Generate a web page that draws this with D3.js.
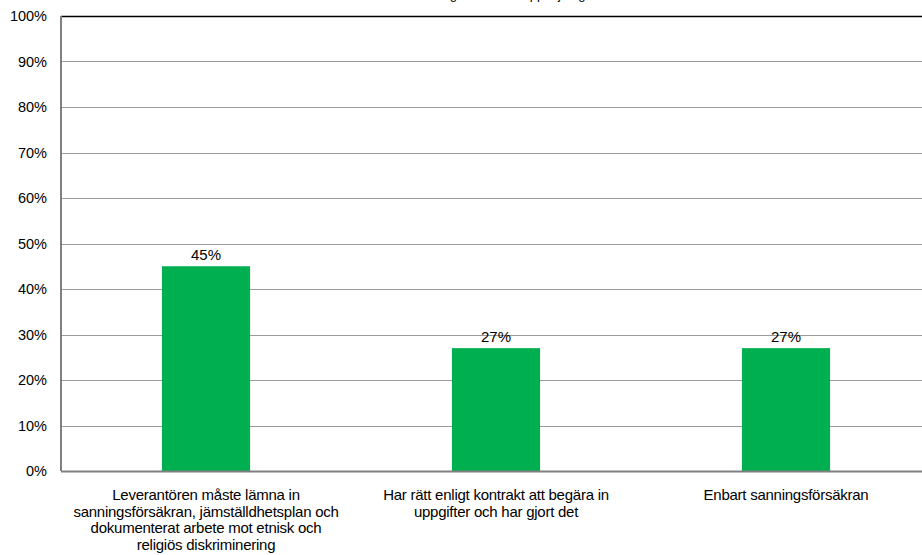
<!DOCTYPE html>
<html>
<head>
<meta charset="utf-8">
<script src="https://cdn.jsdelivr.net/npm/d3@7"></script>
<style>
  body { margin: 0; background: #fff; }
  text { font-family: "Liberation Sans", Arial, sans-serif; fill: #000; }
</style>
</head>
<body>
<svg id="chart" width="922" height="555"></svg>
<script>
const title = "Kravställning i avtal och uppföljning";
const categories = [
  ["Leverantören måste lämna in", "sanningsförsäkran, jämställdhetsplan och", "dokumenterat arbete mot etnisk och", "religiös diskriminering"],
  ["Har rätt enligt kontrakt att begära in", "uppgifter och har gjort det"],
  ["Enbart sanningsförsäkran"]
];
const values = [0.45, 0.27, 0.27];
const yTicks = [0, 0.1, 0.2, 0.3, 0.4, 0.5, 0.6, 0.7, 0.8, 0.9, 1.0];

const svg = d3.select("#chart");
const margin = { left: 61, right: -9, top: 16, bottom: 84 };
const width = 922 - margin.left - margin.right;
const height = 555 - margin.top - margin.bottom;

const g = svg.append("g").attr("transform", `translate(${margin.left},${margin.top})`);

const x = d3.scaleBand()
  .domain(d3.range(categories.length))
  .range([0, width])
  .paddingInner(0.696)
  .paddingOuter(0.348);

const y = d3.scaleLinear().domain([0, 1]).range([height, 0]);

// title sits mostly above the top edge, as in the original
svg.append("text")
  .attr("x", 484)
  .attr("y", -1)
  .attr("text-anchor", "middle")
  .style("font-size", "13px")
  .text(title);

// gridlines
g.selectAll("line.grid")
  .data(yTicks.filter(d => d > 0))
  .enter()
  .append("line")
  .attr("class", "grid")
  .attr("x1", 0)
  .attr("x2", width)
  .attr("y1", d => Math.round(y(d)) + 0.5)
  .attr("y2", d => Math.round(y(d)) + 0.5)
  .attr("stroke", d => d === 1 ? "#000" : "#9a9a9a")
  .attr("stroke-width", d => d === 1 ? 1.5 : 1);

// y axis
const yAxis = g.append("g")
  .call(d3.axisLeft(y).tickValues(yTicks).tickFormat(d3.format(".0%")).tickSize(0).tickPadding(14));
yAxis.select(".domain").remove();
yAxis.selectAll("text").style("font-size", "14.5px");

g.append("line")
  .attr("x1", 0).attr("x2", 0)
  .attr("y1", 0).attr("y2", height)
  .attr("stroke", "#808080").attr("stroke-width", 2);

// bars
g.selectAll("rect.bar")
  .data(values)
  .enter()
  .append("rect")
  .attr("class", "bar")
  .attr("x", (d, i) => x(i))
  .attr("y", d => y(d))
  .attr("width", x.bandwidth())
  .attr("height", d => height - y(d))
  .attr("fill", "#00b050");

// x axis baseline
g.append("line")
  .attr("x1", 0).attr("x2", width)
  .attr("y1", height + 0.5).attr("y2", height + 0.5)
  .attr("stroke", "#808080").attr("stroke-width", 2);

// value labels
g.selectAll("text.val")
  .data(values)
  .enter()
  .append("text")
  .attr("class", "val")
  .attr("x", (d, i) => x(i) + x.bandwidth() / 2)
  .attr("y", d => y(d) - 6)
  .attr("text-anchor", "middle")
  .style("font-size", "15px")
  .text(d => d3.format(".0%")(d));

// category labels
const cat = g.selectAll("text.cat")
  .data(categories)
  .enter()
  .append("text")
  .attr("class", "cat")
  .attr("text-anchor", "middle")
  .attr("transform", (d, i) => `translate(${x(i) + x.bandwidth() / 2},${height + 29})`)
  .style("font-size", "15px")
  .style("letter-spacing", "-0.25px");

cat.selectAll("tspan")
  .data(d => d)
  .enter()
  .append("tspan")
  .attr("x", 0)
  .attr("dy", (d, i) => i === 0 ? 0 : 16.5)
  .text(d => d);
</script>
</body>
</html>
